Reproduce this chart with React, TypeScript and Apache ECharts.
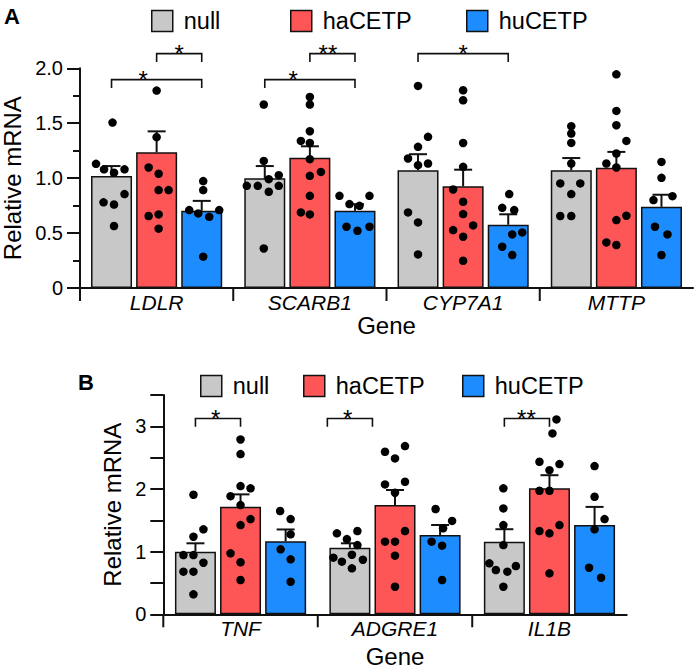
import React, { useEffect, useRef } from "react";
import * as echarts from "echarts";

// ---------- data ----------
const groups = ["null", "haCETP", "huCETP"];
const groupColors = ["#c8c8c8", "#fe5656", "#1d8cfe"];

const genesA = ["LDLR", "SCARB1", "CYP7A1", "MTTP"];
const nullMeanA = [1.02, 1.0, 1.073, 1.073];
const haMeanA = [1.236, 1.185, 0.927, 1.094];
const huMeanA = [0.703, 0.703, 0.576, 0.739];
const nullSemA = [0.09, 0.11, 0.145, 0.11];
const haSemA = [0.19, 0.105, 0.15, 0.145];
const huSemA = [0.09, 0.06, 0.095, 0.11];

// dots: [value, jitter (in dot widths)]
const nullDotsA = [
  [[1.506, 0.1], [1.13, -1.55], [1.08, -0.75], [1.05, 0.25], [1.08, 1.3], [0.855, 1.3], [0.78, -0.8], [0.76, 0.25], [0.564, 0.25]],
  [[1.67, -0.1], [1.157, -0.1], [0.991, 0.4], [1.027, 1.4], [0.93, -1.8], [0.93, -0.7], [0.93, 1.4], [0.876, 0.4], [0.36, -0.1]],
  [[1.84, 0], [1.376, 1], [1.285, 0], [1.179, -1], [1.133, 1], [1.118, 0], [0.688, -1], [0.597, 0], [0.306, 0]],
  [[1.473, 0], [1.406, 0], [1.321, 0], [1.133, 0], [0.952, -1.1], [0.952, 0.9], [0.855, 0], [0.655, -1.1], [0.655, 0]],
];
const haDotsA = [
  [[1.797, 0], [1.373, 0], [1.097, -0.8], [1.04, 0.2], [0.891, 0.2], [0.891, 1.2], [0.655, -0.8], [0.67, 0.2], [0.54, 0.2]],
  [[1.739, 0], [1.67, 0], [1.427, 0], [1.339, -0.9], [1.32, 0], [1.173, 0], [1.057, 1.1], [1.021, 0], [0.839, 0], [0.688, -0.9], [0.67, 0]],
  [[1.8, 0], [1.709, 0], [1.32, 0], [1.103, 0], [0.897, -1], [0.785, 0], [0.673, 0], [0.57, 1], [0.527, -1], [0.467, 0], [0.248, 0]],
  [[1.945, 0], [1.612, 0], [1.482, 0], [1.339, 1], [1.224, 0], [1.133, -1], [1.097, 0], [0.618, 0], [0.658, 1], [0.415, -1], [0.391, 0]],
];
const huDotsA = [
  [[0.973, 0.15], [0.891, 0.15], [0.709, -1.25], [0.679, -0.35], [0.648, 0.75], [0.709, 1.75], [0.285, 0.15]],
  [[0.839, -1.55], [0.839, 1.45], [0.764, -0.55], [0.748, 0.45], [0.558, -0.85], [0.521, 0.25], [0.558, 1.45]],
  [[0.855, 0.1], [0.73, -0.6], [0.709, 0.6], [0.488, 0.4], [0.506, 1.4], [0.376, -0.6], [0.3, 0.4]],
  [[1.148, 0], [1.003, 0], [0.8, -0.8], [0.836, 1.1], [0.558, -0.65], [0.488, 0.6], [0.3, 0]],
];

const genesB = ["TNF", "ADGRE1", "IL1B"];
const nullMeanB = [1.0, 1.063, 1.158];
const haMeanB = [1.717, 1.744, 2.01];
const huMeanB = [1.164, 1.265, 1.424];
const nullSemB = [0.133, 0.07, 0.2];
const haSemB = [0.197, 0.24, 0.21];
const huSemB = [0.19, 0.16, 0.29];

const nullDotsB = [
  [[1.908, -0.2], [1.356, 0.8], [1.238, -0.2], [0.945, -1.2], [0.945, -0.2], [0.823, 0.8], [0.68, -1.2], [0.68, -0.2], [0.319, -0.2]],
  [[1.292, -1.3], [1.2, -0.3], [1.329, 0.75], [1.105, 0.75], [0.904, -1.65], [0.84, -0.8], [0.951, 0.2], [0.871, 1.3], [0.733, 0.2]],
  [[2.01, -0.1], [1.69, -0.1], [1.424, -0.1], [1.105, -0.1], [0.813, -1.5], [0.707, -0.85], [0.68, 0.3], [0.77, 1.15], [0.44, -0.1]],
];
const haDotsB = [
  [[2.79, 0], [2.557, 0], [2.046, 0], [2.01, 1], [1.886, -1], [1.743, 0], [1.52, 1], [1.424, 0], [0.973, -1], [0.83, 0], [0.547, 0]],
  [[2.685, 1], [2.594, -1], [2.488, 0], [2.073, -1], [2.115, 1], [1.94, 0], [1.329, 1], [1.159, -1], [1.159, 0], [0.936, 0], [0.44, 0]],
  [[3.11, 0.7], [2.887, 0.3], [2.434, -1], [2.397, 1], [2.3, 0], [1.971, -1], [1.971, 0], [1.329, -1], [1.292, 0], [1.424, 1], [0.654, 0]],
];
const huDotsB = [
  [[1.648, -0.55], [1.52, 0.5], [1.276, 0.5], [1.037, -0.5], [0.877, 0.5], [0.52, 0.5]],
  [[1.68, -0.45], [1.49, 1.2], [1.372, 0.3], [1.159, -0.85], [1.095, 0.2], [0.547, 0.2]],
  [[2.365, 0], [1.876, 0], [1.52, 1], [1.356, 0], [0.743, -0.55], [0.584, 0.65]],
];

// significance brackets: category, from/to group, level, label position (group units), stars
const bracketsA = [
  { cat: 0, from: 0, to: 2, level: 1.897, at: 0.7, text: "*" },
  { cat: 0, from: 1, to: 2, level: 2.134, at: 1.5, text: "*" },
  { cat: 1, from: 0, to: 2, level: 1.897, at: 0.63, text: "*" },
  { cat: 1, from: 1, to: 2, level: 2.134, at: 1.4, text: "**" },
  { cat: 2, from: 0, to: 2, level: 2.134, at: 1.0, text: "*" },
];
const bracketsB = [
  { cat: 0, from: 0, to: 1, level: 3.126, at: 0.45, text: "*" },
  { cat: 1, from: -0.5, to: 0.5, level: 3.126, at: -0.05, text: "*" },
  { cat: 2, from: 0, to: 1, level: 3.126, at: 0.49, text: "**" },
];

// ---------- style ----------
const FONT = '"Liberation Sans", Arial, Helvetica, sans-serif';
const INK = "#111";
const BAR_W = 41;
const STEP = 45.1;
const DOT_STEP = 10;

function panelSeries(
  gi: number,
  genes: string[],
  means: number[][],
  sems: number[][],
  dots: number[][][][],
  brackets: any[],
  drop: number
) {
  const series: any[] = [];
  groups.forEach((g, k) => {
    series.push({
      type: "bar",
      name: g,
      xAxisIndex: gi,
      yAxisIndex: gi,
      data: means[k],
      barWidth: BAR_W,
      barGap: "10%",
      itemStyle: { color: groupColors[k], borderColor: INK, borderWidth: 1.5, opacity: 1 },
      silent: true,
      z: 2,
    });
  });
  const errData: number[][] = [];
  groups.forEach((_, k) => {
    means[k].forEach((m, i) => errData.push([i, m, sems[k][i], k]));
  });
  series.push({
    type: "custom",
    name: "err" + gi,
    xAxisIndex: gi,
    yAxisIndex: gi,
    data: errData,
    encode: { x: 0, y: 1 },
    clip: false,
    silent: true,
    z: 3,
    renderItem: (params: any, api: any) => {
      const i = api.value(0);
      const m = api.value(1);
      const s = api.value(2);
      const k = api.value(3);
      const p = api.coord([i, m]);
      const q = api.coord([i, m + s]);
      const x = p[0] + (k - 1) * STEP;
      const st = { stroke: INK, lineWidth: 2 };
      return {
        type: "group",
        children: [
          { type: "line", shape: { x1: x, y1: p[1], x2: x, y2: q[1] }, style: st },
          { type: "line", shape: { x1: x - 9, y1: q[1], x2: x + 9, y2: q[1] }, style: st },
        ],
      };
    },
  });
  groups.forEach((g, k) => {
    const data: any[] = [];
    dots[k].forEach((arr, i) => {
      arr.forEach(([v, j]) => {
        data.push({ value: [i, v], symbolOffset: [(k - 1) * STEP + j * DOT_STEP, 0] });
      });
    });
    series.push({
      type: "scatter",
      name: "dots-" + g + gi,
      xAxisIndex: gi,
      yAxisIndex: gi,
      data,
      symbol: "circle",
      symbolSize: 8.5,
      itemStyle: { color: "#000", opacity: 1 },
      silent: true,
      z: 4,
    });
  });
  // category separators (ticks between genes)
  series.push({
    type: "custom",
    name: "sep" + gi,
    xAxisIndex: gi,
    yAxisIndex: gi,
    data: genes.map((_, i) => [i, 0]),
    clip: false,
    silent: true,
    z: 5,
    renderItem: (params: any, api: any) => {
      const p = api.coord([api.value(0), 0]);
      const w = api.size([1, 0])[0];
      const x = p[0] - w / 2;
      return {
        type: "line",
        shape: { x1: x, y1: p[1], x2: x, y2: p[1] + 13 },
        style: { stroke: INK, lineWidth: 2 },
      };
    },
  });
  // significance brackets
  series.push({
    type: "custom",
    name: "sig" + gi,
    xAxisIndex: gi,
    yAxisIndex: gi,
    data: brackets.map((b) => [b.cat, b.level]),
    clip: false,
    silent: true,
    z: 5,
    renderItem: (params: any, api: any) => {
      const b = brackets[params.dataIndex];
      const p = api.coord([api.value(0), api.value(1)]);
      const x0 = p[0] + (b.from - 1) * STEP;
      const x1 = p[0] + (b.to - 1) * STEP;
      const y = p[1];
      return {
        type: "group",
        children: [
          {
            type: "polyline",
            shape: { points: [[x0, y + drop], [x0, y], [x1, y], [x1, y + drop]] },
            style: { stroke: INK, lineWidth: 1.6, fill: "none" },
          },
          {
            type: "text",
            x: p[0] + (b.at - 1) * STEP,
            y: y,
            style: {
              text: b.text,
              fontSize: 24,
              fontFamily: FONT,
              fill: "#000",
              align: "center",
              verticalAlign: "middle",
            },
          },
        ],
      };
    },
  });
  return series;
}

function legendItem(name: string, left: number, top: number) {
  return {
    data: [name],
    left,
    top,
    icon: "rect",
    itemWidth: 21,
    itemHeight: 21,
    itemStyle: { borderColor: INK, borderWidth: 1.5 },
    textStyle: { fontSize: 23.5, fontFamily: FONT, color: "#000", padding: [0, 0, 0, 6] },
    selectedMode: false,
  };
}

export default function App() {
  const ref = useRef<HTMLDivElement>(null);
  useEffect(() => {
    document.body.style.margin = "0";
    if (!ref.current) return;
    const chart = echarts.init(ref.current, null, { renderer: "svg" });
    const axisLine = { show: true, lineStyle: { color: INK, width: 2 } };
    const catAxis = (gi: number, genes: string[], nameGap: number) => ({
      type: "category",
      gridIndex: gi,
      data: genes,
      axisLine,
      axisTick: { show: false },
      axisLabel: { fontSize: 21, fontStyle: "italic", fontFamily: FONT, color: "#000", margin: 4, interval: 0 },
      splitLine: { show: false },
      name: "Gene",
      nameLocation: "middle",
      nameGap,
      nameTextStyle: { fontSize: 24, fontFamily: FONT, color: "#000" },
    });
    const option: any = {
      animation: false,
      backgroundColor: "#fff",
      grid: [
        { left: 80, top: 68.3, width: 613, height: 219.7, outerBoundsMode: "none", containLabel: false },
        { left: 163.3, top: 395, width: 463.4, height: 219.3, outerBoundsMode: "none", containLabel: false },
      ],
      xAxis: [catAxis(0, genesA, 25), catAxis(1, genesB, 30)],
      yAxis: [
        {
          type: "value",
          gridIndex: 0,
          min: 0,
          max: 2,
          interval: 0.5,
          axisLine,
          axisTick: { show: true, length: 13, lineStyle: { color: INK, width: 2 } },
          minorTick: { show: true, splitNumber: 2, length: 7, lineStyle: { color: INK, width: 2 } },
          splitLine: { show: false },
          minorSplitLine: { show: false },
          axisLabel: {
            fontSize: 20,
            fontFamily: FONT,
            color: "#000",
            margin: 17,
            formatter: (v: number) => (v === 0 ? "0" : v.toFixed(1)),
          },
          name: "Relative mRNA",
          nameLocation: "middle",
          nameGap: 54,
          nameTextStyle: { fontSize: 24, fontFamily: FONT, color: "#000" },
        },
        {
          type: "value",
          gridIndex: 1,
          min: 0,
          max: 3.5,
          interval: 0.5,
          axisLine,
          axisTick: { show: true, length: 13, lineStyle: { color: INK, width: 2 } },
          splitLine: { show: false },
          axisLabel: {
            fontSize: 20,
            fontFamily: FONT,
            color: "#000",
            margin: 17,
            formatter: (v: number) => (Number.isInteger(v) ? String(v) : ""),
          },
          name: "Relative mRNA",
          nameLocation: "middle",
          nameGap: 38,
          nameTextStyle: { fontSize: 24, fontFamily: FONT, color: "#000" },
        },
      ],
      legend: [
        legendItem("null", 146, 4),
        legendItem("haCETP", 285, 4),
        legendItem("huCETP", 461, 4),
        legendItem("null", 195, 369),
        legendItem("haCETP", 298, 369),
        legendItem("huCETP", 457, 369),
      ],
      graphic: [
        { type: "text", left: 4, top: 5, style: { text: "A", font: `bold 22px ${FONT}`, fill: "#000" } },
        { type: "text", left: 78, top: 371, style: { text: "B", font: `bold 22px ${FONT}`, fill: "#000" } },
      ],
      series: [
        ...panelSeries(
          0,
          genesA,
          [nullMeanA, haMeanA, huMeanA],
          [nullSemA, haSemA, huSemA],
          [nullDotsA, haDotsA, huDotsA],
          bracketsA,
          8.5
        ),
        ...panelSeries(
          1,
          genesB,
          [nullMeanB, haMeanB, huMeanB],
          [nullSemB, haSemB, huSemB],
          [nullDotsB, haDotsB, huDotsB],
          bracketsB,
          8.4
        ),
      ],
    };
    chart.setOption(option);
    return () => chart.dispose();
  }, []);
  return <div ref={ref} style={{ width: 697, height: 670 }} />;
}
